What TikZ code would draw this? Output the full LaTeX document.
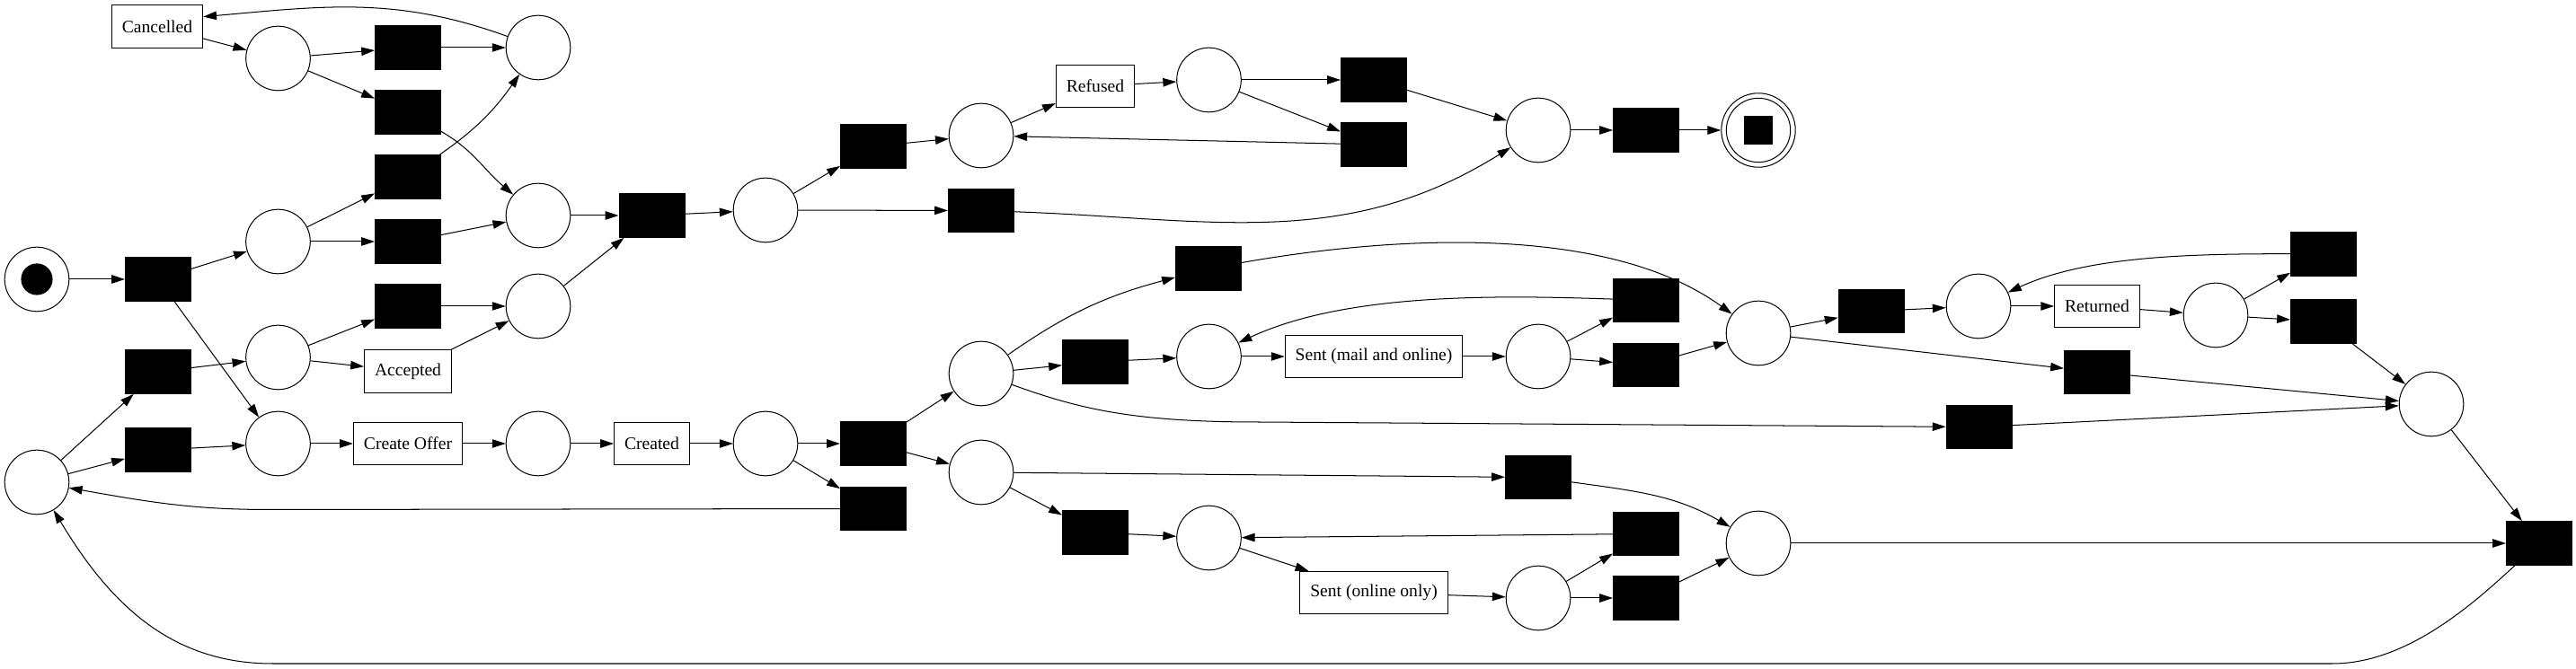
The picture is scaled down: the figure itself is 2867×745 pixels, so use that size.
\documentclass[tikz,border=0pt]{standalone}
\usepackage{fontspec}
\setmainfont{Liberation Serif}
\usetikzlibrary{arrows.meta}

\begin{document}
\begin{tikzpicture}[x=0.74pt,y=0.74pt,>={Triangle[length=11pt,width=7pt]},line width=0.75pt,
   place/.style={circle,draw,minimum size=53pt,inner sep=0pt},
   trans/.style={rectangle,draw,fill=black,minimum width=54pt,minimum height=36pt,inner sep=0pt},
   task/.style={rectangle,draw,minimum height=35pt,inner xsep=8.5pt,font=\fontsize{14.5}{17}\selectfont}]
   \useasboundingbox (0,0) rectangle (2867,745);

   % first columns
   \node[place] (start) at (41,434) {};
   \fill (start) circle (13pt);
   \node[trans] (t0) at (176,434) {};
   \node[task] (cancelled) at (175,715.5) {Cancelled};
   \node[place] (ploop) at (41,208) {};
   \node[trans] (t6) at (176,331) {};
   \node[trans] (t7) at (176,244) {};
   \node[place] (pc1) at (309.5,680) {};
   \node[place] (p2) at (309.5,476) {};
   \node[place] (p3) at (309.5,347) {};
   \node[place] (p4) at (309.5,251) {};
   \node[trans] (t1) at (454,692) {};
   \node[trans] (t2) at (454,620) {};
   \node[trans] (t3) at (454,548) {};
   \node[trans] (t4) at (454,476) {};
   \node[trans] (t5) at (454,404) {};
   \node[task] (accepted) at (454,331.6) {Accepted};
   \node[task] (offer) at (454,251) {Create Offer};
   \node[place] (ptop) at (599,692) {};
   \node[place] (pmid) at (599,505) {};
   \node[place] (pacc) at (599,404) {};
   \node[place] (p5) at (599,251) {};
   \node[trans] (tand) at (725.5,505) {};
   \node[task] (created) at (725.5,251) {Created};

   % middle
   \node[place] (p6) at (852,511) {};
   \node[place] (p9) at (852,251) {};
   \node[trans] (t8) at (972,582) {};
   \node[trans] (t10) at (972,251) {};
   \node[trans] (t11) at (972,178.5) {};
   \node[place] (p7) at (1092,594) {};
   \node[trans] (t9) at (1092,510.5) {};
   \node[place] (p10) at (1092,329) {};
   \node[place] (p11) at (1092,219) {};
   \node[task] (refused) at (1219,649) {Refused};
   \node[trans] (t13) at (1219,342) {};
   \node[trans] (t14) at (1219,152) {};
   \node[place] (p8) at (1345.5,656) {};
   \node[trans] (t12) at (1345,446) {};
   \node[place] (p12) at (1345.5,348) {};
   \node[place] (p13) at (1345.5,146) {};
   \node[trans] (tr1) at (1529,656) {};
   \node[trans] (tr2) at (1529,584) {};
   \node[task] (sentmail) at (1529,348) {Sent (mail and online)};
   \node[task] (sentonline) at (1529,85) {Sent (online only)};
   \node[place] (pend) at (1712,600) {};
   \node[place] (p14) at (1712,348) {};
   \node[trans] (t18) at (1712,213.4) {};
   \node[place] (p18) at (1712,79) {};
   \node[trans] (tfinal) at (1832,600) {};
   \node[trans] (t15) at (1832,410.6) {};
   \node[trans] (t16) at (1832,338.6) {};
   \node[trans] (t19) at (1832,150.5) {};
   \node[trans] (t20) at (1832,79) {};
   \node[place,minimum size=61pt] (pfinal) at (1957,600) {};
   \draw (pfinal) circle (26.4pt);
   \fill (pfinal) +(-11.8pt,-11.8pt) rectangle +(11.8pt,11.8pt);

   % right part
   \node[place] (p15) at (1957,374) {};
   \node[place] (p17) at (1957,140) {};
   \node[trans] (t17) at (2082.6,398.4) {};
   \node[place] (p16) at (2202,404) {};
   \node[trans] (t24) at (2202.6,269.5) {};
   \node[task] (returned) at (2334,404) {Returned};
   \node[trans] (t23) at (2334,330.5) {};
   \node[place] (p19) at (2466,394) {};
   \node[trans] (t21) at (2586,462.3) {};
   \node[trans] (t22) at (2586,386.8) {};
   \node[place] (p20) at (2706,295) {};
   \node[trans] (tlast) at (2826,140) {};

   \path[->] (start) edge (t0)
             (t0) edge (p2)
                  edge (p4)
             (cancelled) edge (pc1)
             (pc1) edge (t1)
                   edge (t2)
             (p2) edge (t3)
                  edge (t4)
             (t1) edge (ptop)
             (t2) edge[out=-30,in=140] (pmid)
             (t3) edge[out=35,in=235] (ptop)
             (t4) edge (pmid)
             (ptop) edge[out=160,in=5] (cancelled.12)
             (ploop) edge (t6)
                     edge (t7)
             (t6) edge (p3)
             (t7) edge (p4)
             (p3) edge (t5)
                  edge (accepted)
             (t5) edge (pacc)
             (accepted) edge (pacc)
             (p4) edge (offer)
             (offer) edge (p5)
             (p5) edge (created)
             (created) edge (p9)
             (pacc) edge (tand)
             (pmid) edge (tand)
             (tand) edge (p6)
             (p6) edge (t8)
                  edge (t9)
             (t8) edge (p7)
             (p7) edge (refused)
             (refused) edge (p8)
             (p8) edge (tr1)
                  edge (tr2)
             (tr2) edge (p7)
             (tr1) edge (pend)
             (t9) edge[out=-2,in=212] (pend)
             (pend) edge (tfinal)
             (tfinal) edge (pfinal)
             (p9) edge (t10)
                  edge (t11)
             (t10) edge (p10)
                   edge (p11)
             (p10) edge[out=35,in=195] (t12)
                   edge (t13)
             (t12) edge[out=10,in=144,looseness=0.8] (p15)
             (t13) edge (p12)
             (p12) edge (sentmail)
             (sentmail) edge (p14)
             (p14) edge (t15)
                   edge (t16)
             (t15) edge[out=178,in=25,looseness=0.8] (p12)
             (t16) edge (p15)
             (p15) edge (t17)
                   edge (t23)
             (t17) edge (p16)
             (p16) edge (returned)
             (returned) edge (p19)
             (p19) edge (t21)
                   edge (t22)
             (t21) edge[out=180,in=25,looseness=0.8] (p16)
             (t22) edge (p20)
             (t23) edge (p20)
             (t24) edge (p20)
             (p20) edge (tlast)
             (p11) edge (t18)
                   edge (t14)
             (t14) edge (p13)
             (p13) edge (sentonline)
             (sentonline) edge (p18)
             (p18) edge (t19)
                   edge (t20)
             (t19) edge (p13)
             (t18) edge[out=-8,in=150] (p17)
             (t20) edge (p17)
             (p17) edge (tlast);

   % long loops
   \draw[->] (p10) .. controls (1200,290) and (1260,275) .. (1400,275) -- (t24);
   \draw[->] (t11) -- (300,177.5) to[out=180,in=-10] (ploop);
   \draw[->] (tlast) .. controls (2755,75) and (2680,6) .. (2596,6) -- (303,6) to[out=180,in=-59] (ploop);
\end{tikzpicture}
\end{document}
